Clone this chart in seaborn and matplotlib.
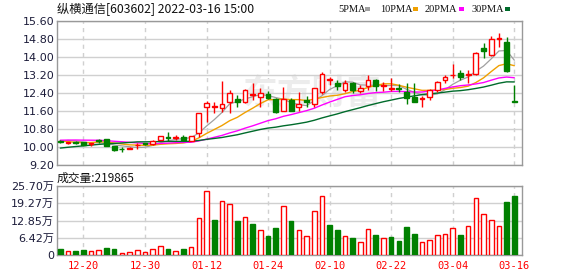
import numpy as np
import pandas as pd
import matplotlib
matplotlib.use("Agg")
import matplotlib.pyplot as plt
from matplotlib.patches import Rectangle
import seaborn as sns

# ---------------- data ----------------
title = "纵横通信[603602] 2022-03-16 15:00"
vol_caption = "成交量:219865"

dates = ["12-15", "12-16", "12-17", "12-20", "12-21", "12-22", "12-23", "12-24", "12-27", "12-28",
         "12-29", "12-30", "12-31", "01-04", "01-05", "01-06", "01-07", "01-10", "01-11", "01-12",
         "01-13", "01-14", "01-17", "01-18", "01-19", "01-20", "01-21", "01-24", "01-25", "01-26",
         "01-27", "01-28", "02-07", "02-08", "02-09", "02-10", "02-11", "02-14", "02-15", "02-16",
         "02-17", "02-18", "02-21", "02-22", "02-23", "02-24", "02-25", "02-28", "03-01", "03-02",
         "03-03", "03-04", "03-07", "03-08", "03-09", "03-10", "03-11", "03-14", "03-15", "03-16"]

opens = [10.27, 10.18, 10.22, 10.22, 10.12, 10.30, 10.34, 10.05, 9.92, 9.93,
         10.07, 10.17, 10.12, 10.31, 10.46, 10.40, 10.43, 10.28, 10.61, 11.79,
         11.80, 11.72, 11.98, 12.15, 11.98, 12.32, 12.22, 12.37, 12.14, 11.62,
         12.08, 11.78, 12.08, 11.93, 12.43, 12.99, 12.86, 12.54, 12.83, 12.47,
         12.72, 13.00, 12.70, 12.60, 12.64, 12.45, 12.24, 12.15, 12.22, 12.54,
         12.99, 13.18, 13.27, 13.22, 13.25, 14.42, 14.10, 14.80, 14.67, 12.04]
highs = [10.30, 10.24, 10.25, 10.24, 10.19, 10.37, 10.37, 10.06, 9.98, 10.00,
         10.16, 10.19, 10.29, 10.50, 10.65, 10.53, 10.52, 10.50, 11.52, 12.03,
         12.01, 12.92, 12.53, 12.30, 12.56, 12.86, 12.64, 12.47, 12.16, 12.68,
         12.16, 12.46, 12.27, 12.64, 13.35, 13.12, 12.98, 12.98, 12.90, 12.75,
         13.22, 13.02, 12.90, 13.05, 12.78, 12.83, 12.86, 12.27, 12.60, 12.92,
         13.20, 13.68, 13.42, 13.42, 14.24, 14.62, 14.94, 15.05, 14.90, 12.76]
lows = [10.19, 10.15, 10.14, 10.08, 10.04, 10.20, 10.03, 9.84, 9.76, 9.91,
        9.92, 10.10, 10.10, 10.30, 10.28, 10.33, 10.28, 10.25, 10.45, 11.10,
        11.53, 11.55, 11.53, 11.79, 11.96, 12.10, 11.77, 12.12, 11.52, 11.60,
        11.60, 11.58, 11.76, 11.77, 12.35, 12.75, 12.54, 12.46, 12.38, 12.38,
        12.53, 12.50, 12.50, 12.50, 12.45, 11.91, 12.00, 11.77, 12.10, 12.44,
        12.86, 13.08, 12.98, 12.83, 13.22, 13.94, 14.05, 14.46, 13.33, 12.02]
closes = [10.22, 10.23, 10.19, 10.10, 10.16, 10.28, 10.06, 9.85, 9.90, 9.97,
          10.10, 10.13, 10.26, 10.48, 10.39, 10.43, 10.31, 10.48, 11.50, 11.94,
          11.84, 11.90, 12.40, 12.00, 12.52, 12.36, 12.38, 12.17, 11.55, 12.15,
          11.62, 11.90, 11.99, 12.62, 13.26, 13.02, 12.72, 12.86, 12.55, 12.64,
          12.97, 12.69, 12.75, 12.63, 12.59, 12.17, 12.02, 12.17, 12.55, 12.89,
          13.11, 13.21, 13.09, 13.25, 14.18, 14.25, 14.82, 14.84, 13.36, 12.02]
# estimated closes of the 29 sessions before the window (only used for the moving averages)
prior_closes = [9.15, 9.20, 9.20, 9.20, 9.30, 9.30, 9.30, 9.30, 9.30, 9.30,
                10.10, 10.15, 10.20, 10.20, 10.35, 10.40, 10.38, 10.35, 10.50, 10.60,
                10.62, 10.54, 10.20, 10.10, 10.05, 10.06, 10.30, 10.35, 10.35]
volumes_wan = [2.24, 1.49, 1.60, 2.00, 1.50, 2.00, 2.70, 2.20, 0.75, 1.12,
               1.74, 1.12, 2.10, 3.47, 2.24, 1.50, 2.24, 2.86, 13.70, 23.84,
               13.04, 20.10, 19.00, 12.67, 14.03, 11.55, 9.31, 7.08, 10.06, 18.25,
               12.67, 9.31, 7.08, 16.39, 21.98, 11.18, 9.31, 7.08, 6.33, 4.84,
               9.56, 7.45, 6.33, 6.83, 5.34, 10.55, 7.82, 4.84, 5.59, 7.45,
               7.82, 9.93, 7.45, 10.68, 21.11, 15.27, 13.04, 10.68, 19.74, 21.99]

ma_windows = [5, 10, 20, 30]
ma_labels = ["5PMA", "10PMA", "20PMA", "30PMA"]
price_ticks = [9.20, 10.00, 10.80, 11.60, 12.40, 13.20, 14.00, 14.80, 15.60]
vol_ticks = [0, 6.42, 12.85, 19.27, 25.70]
date_ticks = ["12-20", "12-30", "01-12", "01-24", "02-10", "02-22", "03-04", "03-16"]

# ---------------- styles ----------------
RED = "#ff0000"
GREEN = "#008000"
ma_colors = ["#a0a0a0", "#f0a000", "#ff00ff", "#006b2b"]
ma_widths = [0.9, 1.0, 1.0, 1.0]
GRID = "#d0d0d0"
SPINE = "#999999"
TICKC = "#1c1c3a"

sns.set_style("white")
plt.rcParams["font.family"] = ["DejaVu Sans", "Noto Sans CJK SC"]

fig = plt.figure(figsize=(5.78, 2.76), dpi=100)
W, H = 578, 276
ax = fig.add_axes([57 / W, 1 - 165 / H, 465 / W, 144 / H])
axv = fig.add_axes([57 / W, 1 - 255 / H, 465 / W, 69 / H])

n = len(closes)
x = np.arange(n)
o = np.array(opens); h = np.array(highs); l = np.array(lows); c = np.array(closes)
vol = np.array(volumes_wan)
date_pos = [dates.index(d) for d in date_ticks]

for a in (ax, axv):
    a.set_xlim(-0.43, n - 0.0)
    for s in a.spines.values():
        s.set_color(SPINE)
        s.set_linewidth(1.0)
    a.tick_params(length=0, pad=2, colors=TICKC, labelsize=8)
    for p in date_pos:
        a.axvline(p, color=GRID, lw=1, ls=(0, (3, 3)), zorder=0)

# watermark
ax.text(0.55, 0.50, "东方财富", transform=ax.transAxes, fontsize=25, fontweight="bold",
        color="#ececec", ha="center", va="center", family=["Noto Sans CJK SC"], zorder=0)

# price axis
ax.set_ylim(9.20, 15.60)
ax.set_yticks(price_ticks)
ax.set_yticklabels([f"{v:.2f}" for v in price_ticks])
for v in price_ticks:
    ax.axhline(v, color=GRID, lw=1, zorder=0)
ax.set_xticks([])

# moving averages via seaborn
allc = pd.Series(prior_closes + closes)
rows = []
for win, lab in zip(ma_windows, ma_labels):
    m = allc.rolling(win).mean().to_numpy()[-n:]
    rows.append(pd.DataFrame({"idx": x, "value": m, "ma": lab}))
ma_df = pd.concat(rows, ignore_index=True)
sns.lineplot(data=ma_df, x="idx", y="value", hue="ma", hue_order=ma_labels,
             palette=dict(zip(ma_labels, ma_colors)), ax=ax, legend=False,
             linewidth=1.0, zorder=2)
for line, lw in zip(ax.get_lines()[-len(ma_labels):], ma_widths):
    line.set_linewidth(lw)
ax.set_xlabel(""); ax.set_ylabel("")

# candles
up = c >= o
ccol = np.where(up, RED, GREEN)
ax.vlines(x, l, h, colors=ccol, linewidth=1.0, zorder=3)
body_h = np.maximum(np.abs(c - o), 0.004)
ax.bar(x, body_h, bottom=np.minimum(o, c), width=0.62,
       color=np.where(up, "white", GREEN), edgecolor=ccol, linewidth=1.0, zorder=4)

# volume
prev = np.concatenate([[prior_closes[-1]], c[:-1]])
vup = c > prev
vcol = np.where(vup, RED, GREEN)
axv.bar(x, vol, width=0.6, color=np.where(vup, "white", GREEN), edgecolor=vcol,
        linewidth=1.0, zorder=3)
axv.set_ylim(0, 25.70)
axv.set_yticks(vol_ticks)
axv.set_yticklabels(["0"] + [f"{v:.2f}万" for v in vol_ticks[1:]])
for v in vol_ticks:
    axv.axhline(v, color=GRID, lw=1, zorder=0)
axv.set_xticks(date_pos)
axv.set_xticklabels(date_ticks, color=RED, family="DejaVu Sans Mono", fontsize=7.5)
axv.tick_params(axis="x", pad=4)

# header texts
fig.text(57 / W, 1 - 9 / H, title, fontsize=8.8, va="center", ha="left",
         family=["Noto Sans CJK SC"], color="#111111")
fig.text(57 / W, 1 - 178 / H, vol_caption, fontsize=8.5, va="center", ha="left",
         family=["Noto Sans CJK SC"], color="#111111")
leg_x = [338, 380, 425, 472]
sq_x = [365, 413, 459, 505]
for lab, col, tx, sx in zip(ma_labels, ma_colors, leg_x, sq_x):
    fig.text(tx / W, 1 - 9 / H, lab, fontsize=7.5, va="center", ha="left",
             family="Liberation Serif", color="#111111")
    fig.patches.append(Rectangle((sx / W, 1 - 11 / H), 5 / W, 4 / H, transform=fig.transFigure,
                                 facecolor=col, edgecolor="none"))

fig.savefig("out.png", dpi=100)
